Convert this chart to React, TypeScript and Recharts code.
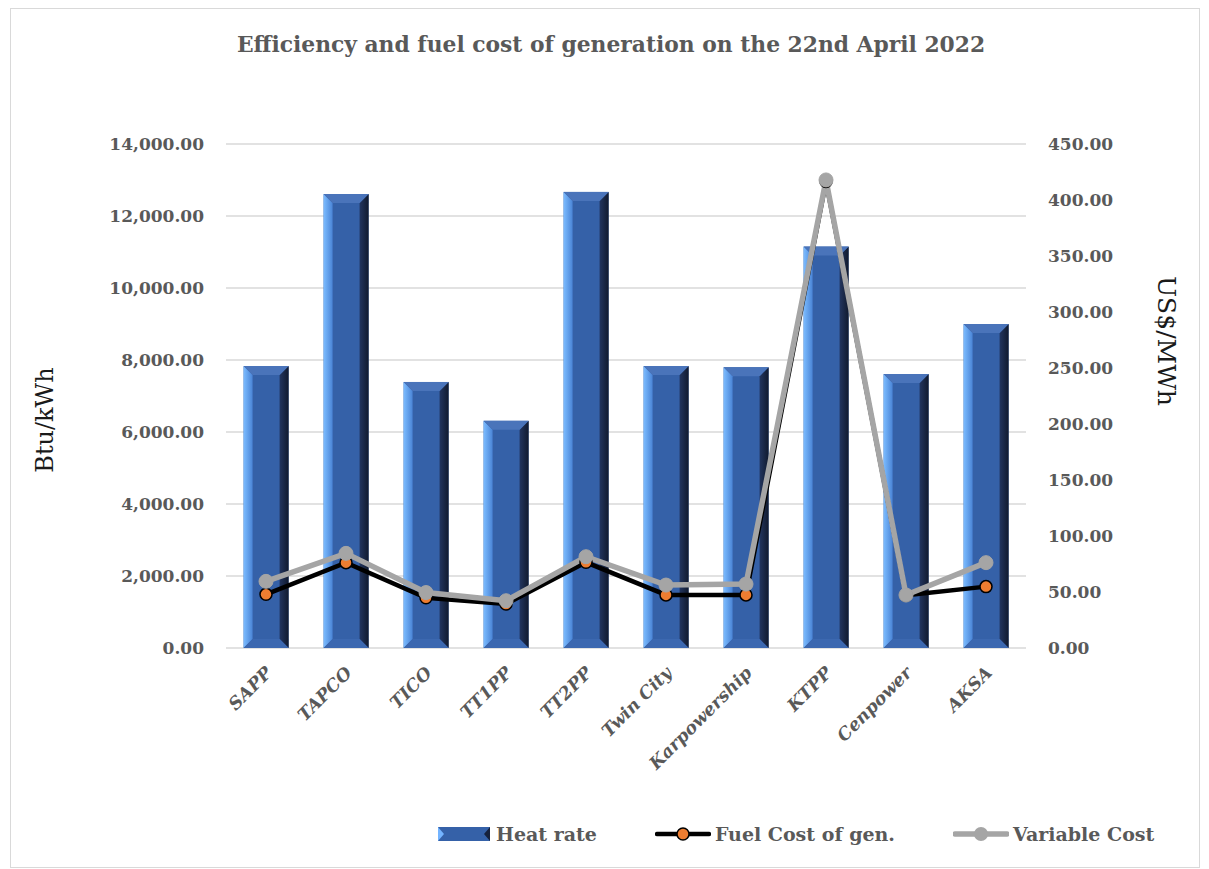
import React from 'react';
import {
  ComposedChart,
  Bar,
  Line,
  XAxis,
  YAxis,
  CartesianGrid,
} from 'recharts';

// Power plants on the x axis
const plants = [
  'SAPP',
  'TAPCO',
  'TICO',
  'TT1PP',
  'TT2PP',
  'Twin City',
  'Karpowership',
  'KTPP',
  'Cenpower',
  'AKSA',
];

// Btu/kWh (left axis)
const heatRate = [7830, 12610, 7390, 6310, 12670, 7830, 7800, 11150, 7610, 9000];

// US$/MWh (right axis)
const fuelCost = [47.9, 76.2, 44.9, 39.3, 76.5, 47.4, 47.4, 416.5, 47.0, 54.8];
const variableCost = [59.5, 84.5, 49.5, 42.2, 81.5, 56.2, 57.1, 417.9, 47.3, 76.2];

const leftTicks = [0, 2000, 4000, 6000, 8000, 10000, 12000, 14000];
const rightTicks = [0, 50, 100, 150, 200, 250, 300, 350, 400, 450];

const chartData = plants.map((name, i) => ({
  name,
  heatRate: heatRate[i],
  fuelCost: fuelCost[i],
  variableCost: variableCost[i],
}));

const TEXT_GREY = '#595959';
const SERIF = '"DejaVu Serif", "Liberation Serif", serif';

const fmt = (v: number) =>
  v.toLocaleString('en-US', { minimumFractionDigits: 2, maximumFractionDigits: 2 });

/**
 * Bevelled bar, roughly like the Excel "cool slant" bar style
 */
function BevelBar(props: any) {
  const { x, y, width, height } = props;
  if (!height || height <= 0) return null;
  const b = Math.min(9, width / 4);
  const x2 = x + width;
  const y2 = y + height;
  return (
    <g>
      <rect x={x} y={y} width={width} height={height} fill="#3561a8" />
      <polygon
        points={`${x},${y} ${x + b},${y + b} ${x + b},${y2 - b} ${x},${y2}`}
        fill="url(#bevelLeft)"
      />
      <polygon
        points={`${x2},${y} ${x2 - b},${y + b} ${x2 - b},${y2 - b} ${x2},${y2}`}
        fill="url(#bevelRight)"
      />
      <polygon
        points={`${x},${y} ${x2},${y} ${x2 - b},${y + b} ${x + b},${y + b}`}
        fill="#4a74ba"
      />
      <polygon
        points={`${x},${y2} ${x2},${y2} ${x2 - b},${y2 - b} ${x + b},${y2 - b}`}
        fill="#3c68b0"
      />
    </g>
  );
}

function PlantTick(props: any) {
  const { x, y, payload } = props;
  const ax = x + 7;
  const ay = y + 18;
  return (
    <text
      x={ax}
      y={ay}
      transform={`rotate(-45 ${ax} ${ay})`}
      textAnchor="end"
      fill={TEXT_GREY}
      fontFamily={SERIF}
      fontSize={17.5}
      fontWeight="bold"
      fontStyle="italic"
    >
      {payload.value}
    </text>
  );
}

function LegendItem({ kind, label, gap }: { kind: 'bar' | 'fuel' | 'variable'; label: string; gap: number }) {
  return (
    <div style={{ display: 'flex', alignItems: 'center', marginRight: gap, whiteSpace: 'nowrap' }}>
      <svg width={56} height={20} style={{ marginRight: 4, flexShrink: 0 }}>
        {kind === 'bar' && (
          <g>
            <rect x={2} y={3} width={52} height={14} fill="#3561a8" />
            <polygon points="2,3 8,10 2,17" fill="#74b4ff" />
            <polygon points="54,3 48,10 54,17" fill="#16213b" />
          </g>
        )}
        {kind === 'fuel' && (
          <g>
            <line x1={2} y1={10} x2={54} y2={10} stroke="#000" strokeWidth={4.5} strokeLinecap="round" />
            <circle cx={28} cy={10} r={6} fill="#ed7d31" stroke="#000" strokeWidth={1.5} />
          </g>
        )}
        {kind === 'variable' && (
          <g>
            <line x1={2} y1={10} x2={54} y2={10} stroke="#a5a5a5" strokeWidth={5.5} strokeLinecap="round" />
            <circle cx={28} cy={10} r={7} fill="#a5a5a5" />
          </g>
        )}
      </svg>
      <span style={{ fontFamily: SERIF, fontWeight: 'bold', fontSize: 19, color: TEXT_GREY }}>{label}</span>
    </div>
  );
}

export default function App() {
  return (
    <div
      style={{
        position: 'relative',
        marginLeft: 2,
        width: 1188,
        height: 858,
        border: '1px solid #d9d9d9',
        background: '#fff',
      }}
    >
      {/* Title */}
      <div
        style={{
          position: 'absolute',
          top: 23,
          left: 6,
          width: 1188,
          textAlign: 'center',
          fontFamily: SERIF,
          fontWeight: 'bold',
          fontSize: 21.8,
          color: TEXT_GREY,
          whiteSpace: 'nowrap',
        }}
      >
        Efficiency and fuel cost of generation on the 22nd April 2022
      </div>

      <ComposedChart
        width={1188}
        height={858}
        data={chartData}
        margin={{ top: 135, right: 0, left: 0, bottom: 0 }}
        barCategoryGap="22%"
      >
        <defs>
          <linearGradient id="bevelLeft" x1="0" y1="0" x2="1" y2="0">
            <stop offset="0%" stopColor="#7cbcff" />
            <stop offset="100%" stopColor="#4a84d6" />
          </linearGradient>
          <linearGradient id="bevelRight" x1="0" y1="0" x2="1" y2="0">
            <stop offset="0%" stopColor="#22355f" />
            <stop offset="100%" stopColor="#111a2e" />
          </linearGradient>
        </defs>
        <CartesianGrid yAxisId="left" vertical={false} stroke="#d9d9d9" strokeWidth={1.5} />
        <XAxis
          dataKey="name"
          height={219}
          axisLine={false}
          tickLine={false}
          interval={0}
          tick={<PlantTick />}
        />
        <YAxis
          yAxisId="left"
          width={215}
          domain={[0, 14000]}
          ticks={leftTicks}
          tickFormatter={fmt}
          axisLine={false}
          tickLine={false}
          tickMargin={16}
          tick={{ fill: TEXT_GREY, fontFamily: SERIF, fontSize: 17, fontWeight: 'bold' }}
          label={{
            content: () => (
              <text
                x={34}
                y={411}
                transform="rotate(-90 34 411)"
                textAnchor="middle"
                dominantBaseline="central"
                fontFamily={SERIF}
                fontSize={24}
                fill="#1a1a1a"
              >
                Btu/kWh
              </text>
            ),
          }}
        />
        <YAxis
          yAxisId="right"
          orientation="right"
          width={173}
          domain={[0, 450]}
          ticks={rightTicks}
          tickFormatter={fmt}
          axisLine={false}
          tickLine={false}
          tickMargin={16}
          tick={{ fill: TEXT_GREY, fontFamily: SERIF, fontSize: 17, fontWeight: 'bold', textAnchor: 'start' }}
          label={{
            content: () => (
              <text
                x={1155}
                y={332}
                transform="rotate(90 1155 332)"
                textAnchor="middle"
                dominantBaseline="central"
                fontFamily={SERIF}
                fontSize={25}
                fill="#1a1a1a"
              >
                US$/MWh
              </text>
            ),
          }}
        />
        <Bar
          yAxisId="left"
          dataKey="heatRate"
          name="Heat rate"
          shape={<BevelBar />}
          isAnimationActive={false}
        />
        <Line
          yAxisId="right"
          dataKey="fuelCost"
          name="Fuel Cost of gen."
          type="linear"
          stroke="#000"
          strokeWidth={4.5}
          dot={{ r: 6, fill: '#ed7d31', stroke: '#000', strokeWidth: 1.5 }}
          activeDot={false}
          isAnimationActive={false}
        />
        <Line
          yAxisId="right"
          dataKey="variableCost"
          name="Variable Cost"
          type="linear"
          stroke="#a5a5a5"
          strokeWidth={5.5}
          dot={{ r: 7, fill: '#a5a5a5', stroke: '#a5a5a5', strokeWidth: 1 }}
          activeDot={false}
          isAnimationActive={false}
        />
      </ComposedChart>

      {/* Legend */}
      <div
        style={{
          position: 'absolute',
          top: 814,
          left: 425,
          display: 'flex',
          alignItems: 'center',
        }}
      >
        <LegendItem kind="bar" label="Heat rate" gap={58} />
        <LegendItem kind="fuel" label="Fuel Cost of gen." gap={58} />
        <LegendItem kind="variable" label="Variable Cost" gap={0} />
      </div>
    </div>
  );
}
